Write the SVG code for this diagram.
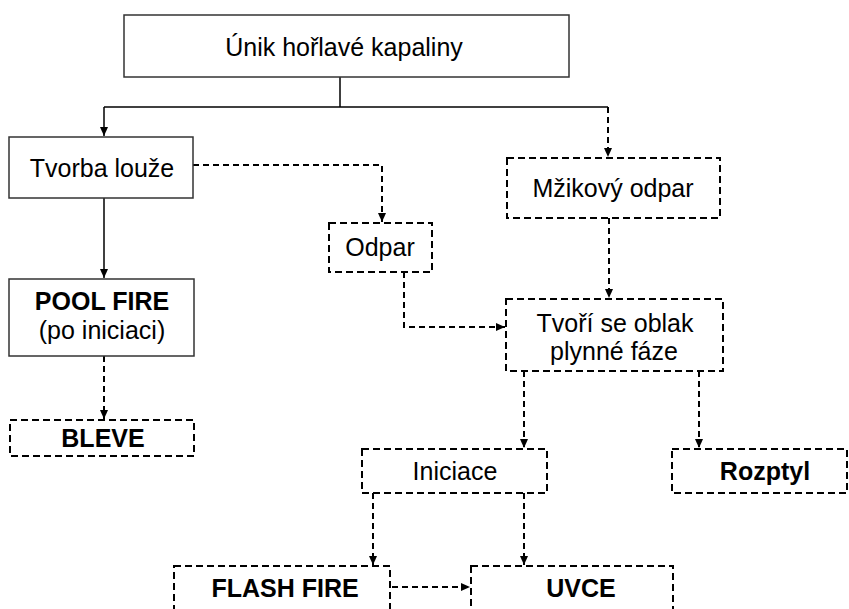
<svg xmlns="http://www.w3.org/2000/svg" width="849" height="609" viewBox="0 0 849 609">
<defs>
<marker id="ah" markerWidth="10" markerHeight="10" refX="9" refY="5" orient="auto" markerUnits="userSpaceOnUse">
<path d="M0,1 L9,5 L0,9 Z" fill="#000"/>
</marker>
</defs>
<style>
.solid{fill:#fff;stroke:#333;stroke-width:1.5}
.dash{fill:#fff;stroke:#000;stroke-width:2;stroke-dasharray:7 4}
.c{fill:none;stroke:#000;stroke-width:1.5}
.cd{fill:none;stroke:#000;stroke-width:2;stroke-dasharray:6 4}
text{font-family:"Liberation Sans",Arial,sans-serif;font-size:25px;fill:#000;text-anchor:middle}
.b{font-weight:bold}
</style>
<rect width="849" height="609" fill="#fff"/>
<g id="connectors">
<polyline class="c" points="340,77 340,107"/>
<polyline class="c" points="104,107 608,107"/>
<polyline class="c" points="104,107 104,136" marker-end="url(#ah)"/>
<polyline class="cd" points="608,107 608,157" marker-end="url(#ah)"/>
<polyline class="c" points="104,198 104,278" marker-end="url(#ah)"/>
<polyline class="cd" points="104,356 104,419" marker-end="url(#ah)"/>
<polyline class="cd" points="193,165 382,165 382,222" marker-end="url(#ah)"/>
<polyline class="cd" points="609,218 609,298" marker-end="url(#ah)"/>
<polyline class="cd" points="404,272 404,327 505,327" marker-end="url(#ah)"/>
<polyline class="cd" points="524,371 524,448" marker-end="url(#ah)"/>
<polyline class="cd" points="699,371 699,448" marker-end="url(#ah)"/>
<polyline class="cd" points="373,493 373,565" marker-end="url(#ah)"/>
<polyline class="cd" points="524,493 524,565" marker-end="url(#ah)"/>
<polyline class="cd" points="392,587 470,587" marker-end="url(#ah)"/>
</g>
<g id="n_unik"><rect class="solid" x="124" y="15" width="445" height="62"/><text x="344" y="56">Únik hořlavé kapaliny</text></g>
<g id="n_tvorba"><rect class="solid" x="9" y="137" width="184" height="61"/><text x="102" y="177">Tvorba louže</text></g>
<g id="n_mzikovy"><rect class="dash" x="507" y="158" width="213" height="60"/><text x="613" y="197">Mžikový odpar</text></g>
<g id="n_odpar"><rect class="dash" x="329" y="223" width="103" height="49"/><text x="380" y="256">Odpar</text></g>
<g id="n_pool"><rect class="solid" x="9" y="279" width="185" height="77"/><text class="b" x="102" y="310">POOL FIRE</text><text x="102" y="339">(po iniciaci)</text></g>
<g id="n_oblak"><rect class="dash" x="506" y="299" width="217" height="72"/><text x="615" y="332">Tvoří se oblak</text><text x="614" y="360">plynné fáze</text></g>
<g id="n_bleve"><rect class="dash" x="10" y="420" width="184" height="36"/><text class="b" x="103" y="447">BLEVE</text></g>
<g id="n_iniciace"><rect class="dash" x="362" y="449" width="185" height="44"/><text x="455" y="480">Iniciace</text></g>
<g id="n_rozptyl"><rect class="dash" x="672" y="449" width="175" height="44"/><text class="b" x="765" y="480">Rozptyl</text></g>
<g id="n_flash"><rect class="dash" x="174" y="566" width="216" height="60"/><text class="b" x="285" y="597">FLASH FIRE</text></g>
<g id="n_uvce"><rect class="dash" x="471" y="566" width="202" height="60"/><text class="b" x="581" y="597">UVCE</text></g>
</svg>
